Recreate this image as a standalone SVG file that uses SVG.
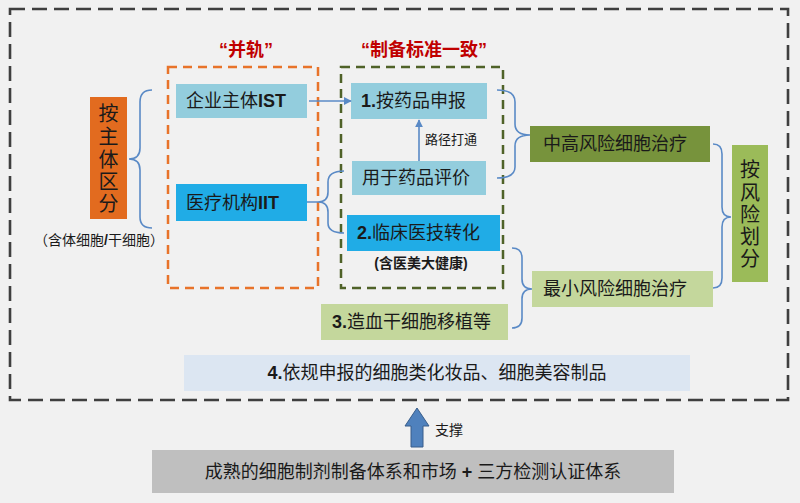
<svg xmlns="http://www.w3.org/2000/svg" width="800" height="503" viewBox="0 0 800 503">
<defs>
<style>
text{font-family:"Liberation Sans","Noto Sans CJK SC",sans-serif;fill:#1a1a1a;}
.t{font-size:18px;}
.s{font-size:13px;}
.p{font-size:14px;}
.v{font-size:20px;text-anchor:middle;}
.red{font-size:18px;font-weight:bold;fill:#C00000;text-anchor:middle;}
.b{font-weight:bold;}
.brace{fill:none;stroke:#5A8AC6;stroke-width:1.6;}
.conn{fill:none;stroke:#5A8AC6;stroke-width:1.6;}
</style>
<marker id="ah" viewBox="0 0 10 10" refX="9" refY="5" markerWidth="8" markerHeight="8" markerUnits="userSpaceOnUse" orient="auto">
<path d="M0,0 L10,5 L0,10 z" fill="#5A8AC6"/>
</marker>
</defs>
<rect x="0" y="0" width="800" height="503" fill="#F1F1F1"/>

<g id="frames">
<rect x="10" y="9" width="778" height="391" fill="none" stroke="#3F3F3F" stroke-width="2.6" stroke-dasharray="15 7"/>
<rect x="168" y="67" width="150" height="221" fill="none" stroke="#E8732A" stroke-width="2.5" stroke-dasharray="9 6"/>
<rect x="341" y="67" width="162" height="221" fill="none" stroke="#4F6228" stroke-width="2.5" stroke-dasharray="9 6"/>
<text class="red" x="246" y="56">“并轨”</text>
<text class="red" x="424" y="56">“制备标准一致”</text>
</g>

<g id="by-subject">
<rect x="90" y="97" width="37" height="122" fill="#E26B1F"/>
<text class="v" x="108.5" y="121">按</text>
<text class="v" x="108.5" y="144">主</text>
<text class="v" x="108.5" y="167">体</text>
<text class="v" x="108.5" y="189">区</text>
<text class="v" x="108.5" y="211">分</text>
<text class="p" x="99" y="245" text-anchor="middle">（含体细胞<tspan class="b">/</tspan>干细胞）</text>
</g>

<g id="ist">
<rect x="176" y="84" width="131" height="34" fill="#93CDDD"/>
<text class="t" x="186" y="107">企业主体<tspan class="b">IST</tspan></text>
</g>

<g id="iit">
<rect x="176" y="184" width="131" height="37" fill="#20ACE6"/>
<text class="t" x="186" y="209">医疗机构<tspan class="b">IIT</tspan></text>
</g>

<g id="drug-declare">
<rect x="351" y="83" width="136" height="36" fill="#93CDDD"/>
<text class="t" x="361" y="107"><tspan class="b">1.</tspan>按药品申报</text>
</g>

<g id="drug-eval">
<rect x="352" y="161" width="134" height="34" fill="#93CDDD"/>
<text class="t" x="362" y="184">用于药品评价</text>
</g>

<g id="clinical">
<rect x="347" y="215" width="153" height="36" fill="#20ACE6"/>
<text class="t" x="357" y="239"><tspan class="b">2.</tspan>临床医技转化</text>
<text class="p b" x="421" y="268" text-anchor="middle">(含医美大健康)</text>
</g>

<g id="hsc">
<rect x="321" y="304" width="187" height="36" fill="#C4D79C"/>
<text class="t" x="332" y="328"><tspan class="b">3.</tspan>造血干细胞移植等</text>
</g>

<g id="cosmetic">
<rect x="184" y="355" width="506" height="36" fill="#DCE6F2"/>
<text class="t" x="437" y="379" text-anchor="middle"><tspan class="b">4.</tspan>依规申报的细胞类化妆品、细胞美容制品</text>
</g>

<g id="high-risk">
<rect x="530" y="126" width="180" height="36" fill="#77933C"/>
<text class="t" x="543" y="150">中高风险细胞治疗</text>
</g>

<g id="low-risk">
<rect x="532" y="271" width="181" height="36" fill="#C4D79C"/>
<text class="t" x="543" y="295">最小风险细胞治疗</text>
</g>

<g id="by-risk">
<rect x="732" y="145" width="36" height="137" fill="#9BBB59"/>
<text class="v" x="750" y="177">按</text>
<text class="v" x="750" y="200">风</text>
<text class="v" x="750" y="222">险</text>
<text class="v" x="750" y="244">划</text>
<text class="v" x="750" y="266">分</text>
</g>

<g id="foundation">
<rect x="152" y="450" width="522" height="43" fill="#BFBFBF"/>
<text class="t" x="413" y="478" text-anchor="middle">成熟的细胞制剂制备体系和市场 <tspan class="b">+</tspan> 三方检测认证体系</text>
</g>

<g id="connectors">
<path class="brace" d="M152,90 Q140,90 140,102 L140,148 Q140,159 129,159 Q140,159 140,170 L140,217 Q140,228 152,228"/>
<path class="brace" d="M307,202 L318,202 M344,171 Q328,171 328,182 L328,192 Q328,202 318,202 Q328,202 328,212 L328,223 Q328,233 344,233"/>
<path class="brace" d="M497,90 Q515,90 515,102 L515,124 Q515,135 530,135 Q515,135 515,146 L515,167 Q515,178 497,178"/>
<path class="brace" d="M512,248 Q522,248 522,258 L522,279 Q522,289 532,289 Q522,289 522,299 L522,318 Q522,328 512,328"/>
<path class="brace" d="M713,144 Q722,144 722,154 L722,207 Q722,217 731,217 Q722,217 722,227 L722,278 Q722,288 713,288"/>
<line class="conn" x1="309" y1="101" x2="351" y2="101" marker-end="url(#ah)"/>
<line class="conn" x1="419" y1="161" x2="419" y2="120" marker-end="url(#ah)"/>
<text class="s" x="425" y="144">路径打通</text>
<polygon points="417,408 429,426 423,426 423,447 411,447 411,426 405,426" fill="#4F81BD" stroke="#385D8A" stroke-width="1"/>
<text x="435" y="435" style="font-size:14px">支撑</text>
</g>
</svg>
